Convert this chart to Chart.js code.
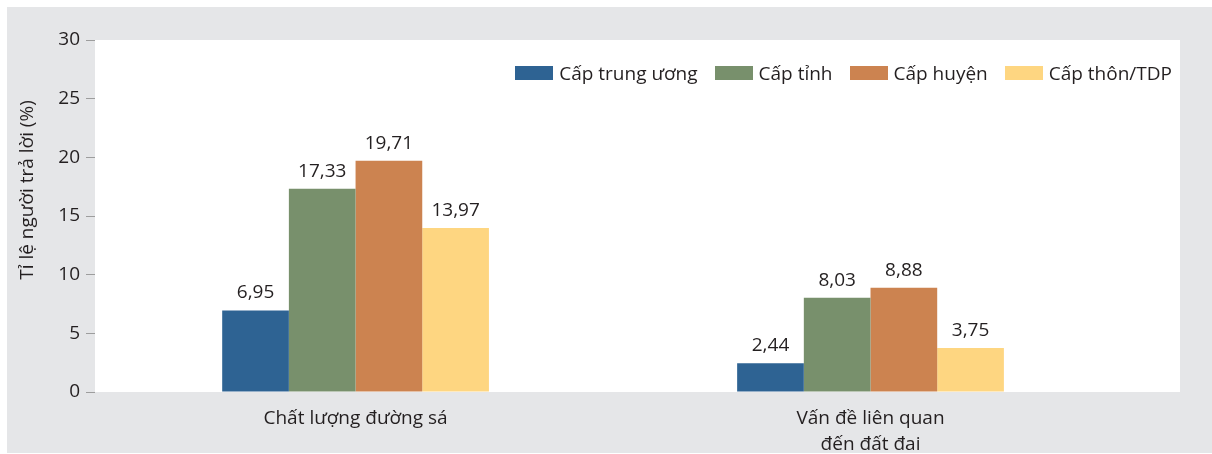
<!DOCTYPE html>
<html>
<head>
<meta charset="utf-8">
<script src="https://cdn.jsdelivr.net/npm/chart.js@4.4.1/dist/chart.umd.min.js"></script>
<style>
  html, body { margin: 0; padding: 0; background: #fff; }
  #wrap { position: relative; width: 1212px; height: 454px; }
  #legend {
    position: absolute; top: 60px; right: 40px;
    display: flex; align-items: center;
    font-family: "Open Sans", sans-serif; font-size: 19px; color: #231f20;
  }
  #legend .item { display: flex; align-items: center; margin-left: 17px; }
  #legend .box { width: 38px; height: 14px; margin-right: 6px; }
</style>
</head>
<body>
<div id="wrap">
  <canvas id="chart" width="1212" height="454"></canvas>
  <div id="legend"></div>
</div>
<script>
// data
var categories = [["Chất lượng đường sá"], ["Vấn đề liên quan", "đến đất đai"]];
var seriesNames = ["Cấp trung ương", "Cấp tỉnh", "Cấp huyện", "Cấp thôn/TDP"];
var capTrungUong = [6.95, 2.44];
var capTinh = [17.33, 8.03];
var capHuyen = [19.71, 8.88];
var capThon = [13.97, 3.75];
var yTicks = [0, 5, 10, 15, 20, 25, 30];
var yTitle = "Tỉ lệ người trả lời (%)";

var colors = ["#2e6393", "#78906c", "#cc8350", "#fed681"];
var textColor = "#231f20";
var fontFamily = '"Open Sans", sans-serif';

function toPoints(values) {
  return values.map(function (v, i) { return { x: i, y: v }; });
}

var series = [capTrungUong, capTinh, capHuyen, capThon];
var datasets = series.map(function (values, i) {
  return {
    label: seriesNames[i],
    data: toPoints(values),
    backgroundColor: colors[i],
    borderWidth: 0,
    barPercentage: 1,
    categoryPercentage: 0.518,
  };
});

// gray frame + white plot background
var backgroundPlugin = {
  id: "background",
  beforeDraw: function (chart) {
    var ctx = chart.ctx, a = chart.chartArea;
    ctx.save();
    ctx.fillStyle = "#e5e6e8";
    ctx.fillRect(7, 7, chart.width - 7, chart.height - 8);
    ctx.fillStyle = "#ffffff";
    ctx.fillRect(a.left, a.top, a.right - a.left, a.bottom - a.top);
    ctx.restore();
  },
};

// value labels above bars + y-axis title
var labelsPlugin = {
  id: "valueLabels",
  afterDatasetsDraw: function (chart) {
    var ctx = chart.ctx;
    ctx.save();
    ctx.fillStyle = textColor;
    ctx.font = "19px " + fontFamily;
    ctx.textAlign = "center";
    ctx.textBaseline = "alphabetic";
    chart.data.datasets.forEach(function (ds, di) {
      chart.getDatasetMeta(di).data.forEach(function (bar, i) {
        var v = ds.data[i].y;
        ctx.fillText(v.toFixed(2).replace(".", ","), bar.x, bar.y - 12);
      });
    });
    ctx.translate(28, 190);
    ctx.rotate(-Math.PI / 2);
    ctx.textBaseline = "middle";
    ctx.fillText(yTitle, 0, 0);
    ctx.restore();
  },
};

var ctx = document.getElementById("chart").getContext("2d");
var chart = new Chart(ctx, {
  type: "bar",
  data: { datasets: datasets },
  options: {
    responsive: false,
    animation: false,
    layout: { padding: { top: 40, right: 32, left: 0, bottom: 0 } },
    plugins: {
      legend: { display: false },
      tooltip: { enabled: false },
    },
    scales: {
      x: {
        type: "linear",
        offset: false,
        min: -0.506,
        max: 1.601,
        afterBuildTicks: function (scale) {
          scale.ticks = categories.map(function (c, i) { return { value: i }; });
        },
        afterFit: function (scale) { scale.height = 62; },
        grid: { display: false, drawTicks: false, offset: false },
        border: { display: false },
        ticks: {
          padding: 13,
          color: textColor,
          font: { family: fontFamily, size: 19, lineHeight: 1.4 },
          maxRotation: 0,
          callback: function (v) { return categories[v]; },
        },
      },
      y: {
        min: 0,
        max: 30,
        afterBuildTicks: function (scale) {
          scale.ticks = yTicks.map(function (t) { return { value: t }; });
        },
        afterFit: function (scale) { scale.width = 95; },
        grid: { drawOnChartArea: false, tickLength: 9, color: "#9d9d9d", lineWidth: 1 },
        border: { display: false },
        ticks: {
          padding: 6,
          color: textColor,
          font: { family: fontFamily, size: 19 },
        },
      },
    },
  },
  plugins: [backgroundPlugin, labelsPlugin],
});

// html legend
var legendEl = document.getElementById("legend");
chart.data.datasets.forEach(function (ds) {
  var item = document.createElement("div");
  item.className = "item";
  var box = document.createElement("span");
  box.className = "box";
  box.style.background = ds.backgroundColor;
  var text = document.createElement("span");
  text.textContent = ds.label;
  item.appendChild(box);
  item.appendChild(text);
  legendEl.appendChild(item);
});
</script>
</body>
</html>
